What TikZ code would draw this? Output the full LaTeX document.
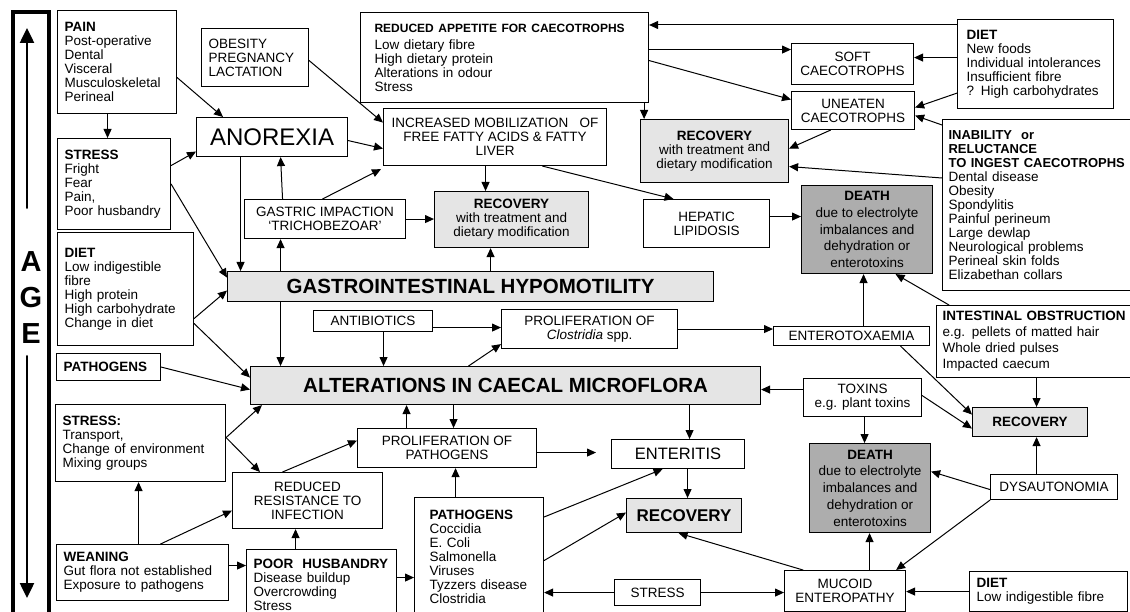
\documentclass[tikz,border=0pt]{standalone}
\usepackage{fontspec}
\setmainfont{Liberation Sans}
\usetikzlibrary{arrows.meta}

\definecolor{recfill}{gray}{0.9}
\definecolor{deathfill}{gray}{0.68}
\newcommand{\boxfont}{\fontsize{13.5}{14}\selectfont}

\tikzset{
  box/.style={draw, line width=1.1pt, fill=white, font=\boxfont},
  listbox/.style={box, anchor=north west, align=left, inner xsep=7pt, inner ysep=0pt},
  cbox/.style={box, anchor=north west, align=center, inner sep=0pt},
  recbox/.style={cbox, fill=recfill},
  deathbox/.style={cbox, fill=deathfill, font=\fontsize{13.5}{16.7}\selectfont},
  arr/.style={-{Triangle[length=9pt,width=8pt]}, line width=1pt},
  agearr/.style={-{Triangle[length=15pt,width=14pt]}, line width=2.5pt},
}

\begin{document}
\begin{tikzpicture}[x=1pt, y=-1pt, line cap=round]
    \useasboundingbox (0,0) rectangle (1130,612);

    % Barra AGE
    \draw[line width=3.5pt] (13,12) rectangle (49,640);
    \node[font=\fontsize{29}{36}\selectfont\bfseries, align=center, inner sep=0pt] (age) at (31,298) {A\\G\\E};
    \coordinate (agetop) at (27,28);
    \coordinate (agebottom) at (27,598);
    \draw[agearr] ([xshift=-4pt,yshift=44pt]age.north) -- (agetop);
    \draw[agearr] ([xshift=-4pt,yshift=-12pt]age.south) -- (agebottom);

    % Cause a sinistra
    \node[listbox, text width=105pt, minimum height=103pt] (pain) at (57,10)
        {\textbf{PAIN}\\Post-operative\\Dental\\Visceral\\Musculoskeletal\\Perineal};
    \node[listbox, text width=93pt, minimum height=58pt] (obesity) at (201,28)
        {OBESITY\\PREGNANCY\\LACTATION};
    \node[listbox, text width=99pt, minimum height=91pt] (stressA) at (57,138)
        {\textbf{STRESS}\\Fright\\Fear\\Pain,\\Poor husbandry};
    \node[listbox, text width=122pt, minimum height=113pt] (dietA) at (57,232)
        {\textbf{DIET}\\Low indigestible\\fibre\\High protein\\High carbohydrate\\Change in diet};
    \node[listbox, text width=90pt, minimum height=27pt] (pathA) at (56,353) {\textbf{PATHOGENS}};
    \node[listbox, text width=156pt, minimum height=77pt] (stressB) at (55,404)
        {\textbf{STRESS:}\\Transport,\\Change of environment\\Mixing groups};
    \node[listbox, text width=158pt, minimum height=56pt] (weaning) at (56,544)
        {\textbf{WEANING}\\Gut flora not established\\Exposure to pathogens};
    \node[listbox, text width=136pt, minimum height=70pt] (poor) at (246,549)
        {\textbf{POOR\ \ HUSBANDRY}\\Disease buildup\\Overcrowding\\Stress};
    \node[listbox, inner xsep=15pt, text width=99pt, minimum height=118pt] (pathlist) at (414,497)
        {\textbf{PATHOGENS}\\Coccidia\\E. Coli\\Salmonella\\Viruses\\Tyzzers disease\\Clostridia};

    % Blocchi centrali
    \node[cbox, minimum width=151pt, minimum height=39pt, font=\fontsize{24}{26}\selectfont] (anorexia) at (196,117) {ANOREXIA};
    \node[cbox, minimum width=161pt, minimum height=39pt] (gastric) at (244,199) {GASTRIC IMPACTION\\`TRICHOBEZOAR'};
    \node[listbox, inner xsep=14pt, text width=260pt, minimum height=90pt] (appetite) at (360,12)
        {{\fontsize{12}{14}\selectfont\bfseries REDUCED APPETITE FOR CAECOTROPHS}\\[3pt]Low dietary fibre\\High dietary protein\\Alterations in odour\\Stress};
    \node[cbox, minimum width=223pt, minimum height=57pt] (incmob) at (383,108)
        {INCREASED MOBILIZATION\ \ \ OF\\FREE FATTY ACIDS \& FATTY\\LIVER};
    \node[recbox, minimum width=154pt, minimum height=56pt] (recovM) at (434,191)
        {\textbf{RECOVERY}\\with treatment and\\dietary modification};
    \node[recbox, minimum width=486pt, minimum height=30pt, font=\fontsize{20.5}{22}\selectfont\bfseries] (gi) at (227,271)
        {GASTROINTESTINAL HYPOMOTILITY};
    \node[cbox, minimum width=119pt, minimum height=21pt] (antib) at (313,310) {ANTIBIOTICS};
    \node[cbox, minimum width=176pt, minimum height=39pt] (prolclos) at (501,309)
        {PROLIFERATION OF\\\textit{Clostridia} spp.};
    \node[recbox, minimum width=510pt, minimum height=38pt, font=\fontsize{20.5}{22}\selectfont\bfseries] (alter) at (250,366)
        {ALTERATIONS IN CAECAL MICROFLORA};
    \node[cbox, minimum width=150pt, minimum height=56pt] (resist) at (232,472) {REDUCED\\RESISTANCE TO\\INFECTION};
    \node[cbox, minimum width=179pt, minimum height=39pt] (prolpath) at (357,428) {PROLIFERATION OF\\PATHOGENS};
    \node[cbox, minimum width=133pt, minimum height=29pt, font=\fontsize{16.5}{18}\selectfont] (enteritis) at (611,439) {ENTERITIS};
    \node[recbox, minimum width=115pt, minimum height=34pt, font=\fontsize{17}{18}\selectfont\bfseries] (recovL) at (626,498) {RECOVERY};
    \node[cbox, minimum width=86pt, minimum height=26pt] (stressC) at (614,579) {STRESS};

    % Blocchi a destra
    \node[cbox, minimum width=122pt, minimum height=41pt] (soft) at (791,43) {SOFT\\CAECOTROPHS};
    \node[cbox, minimum width=123pt, minimum height=38pt] (uneaten) at (791,91) {UNEATEN\\CAECOTROPHS};
    \node[listbox, inner xsep=9pt, text width=138pt, minimum height=89pt] (dietT) at (957,19)
        {\textbf{DIET}\\New foods\\Individual intolerances\\Insufficient fibre\\? High carbohydrates};
    \node[recbox, minimum width=148pt, minimum height=63pt] (recovUR) at (640,119)
        {\textbf{RECOVERY}\\with treatment \raisebox{3pt}{and}\\dietary modification};
    \node[listbox, inner xsep=6pt, text width=250pt, minimum height=171pt] (inability) at (942,119)
        {{\fontsize{13}{14}\selectfont\bfseries INABILITY\ \ or\\RELUCTANCE\\TO INGEST CAECOTROPHS}\\Dental disease\\Obesity\\Spondylitis\\Painful perineum\\Large dewlap\\Neurological problems\\Perineal skin folds\\Elizabethan collars};
    \node[cbox, minimum width=126pt, minimum height=48pt] (hepatic) at (643,199) {HEPATIC\\LIPIDOSIS};
    \node[deathbox, minimum width=131pt, minimum height=88pt] (deathU) at (801,185)
        {\textbf{DEATH}\\due to electrolyte\\imbalances and\\dehydration or\\enterotoxins};
    \node[cbox, minimum width=156pt, minimum height=19pt] (enterotox) at (773,326) {ENTEROTOXAEMIA};
    \node[listbox, inner xsep=6pt, text width=250pt, minimum height=72pt, font=\fontsize{13.5}{16}\selectfont] (obstruct) at (936,305)
        {\textbf{INTESTINAL OBSTRUCTION}\\e.g. pellets of matted hair\\Whole dried pulses\\Impacted caecum};
    \node[cbox, minimum width=118pt, minimum height=38pt] (toxins) at (803,378) {TOXINS\\e.g. plant toxins};
    \node[recbox, minimum width=115pt, minimum height=29pt, font=\boxfont\bfseries] (recovR) at (972,407) {RECOVERY};
    \node[deathbox, minimum width=121pt, minimum height=89pt] (deathL) at (809,443)
        {\textbf{DEATH}\\due to electrolyte\\imbalances and\\dehydration or\\enterotoxins};
    \node[cbox, minimum width=127pt, minimum height=25pt] (dysaut) at (990,474) {DYSAUTONOMIA};
    \node[cbox, minimum width=121pt, minimum height=41pt] (mucoid) at (784,570) {MUCOID\\ENTEROPATHY};
    \node[listbox, text width=144pt, minimum height=40pt] (dietC) at (969,571)
        {\textbf{DIET}\\Low indigestible fibre};

    % Frecce in alto a sinistra
    \draw[arr] ([yshift=-15.5pt]pain.east) -- ([xshift=27pt]anorexia.north west);
    \draw[arr] ([xshift=-9.5pt]pain.south) -- ([xshift=-6.5pt]stressA.north);
    \draw[arr] ([yshift=-3pt]obesity.east) -- ([yshift=14.5pt]incmob.west);
    \draw[arr] ([yshift=-3.5pt]anorexia.east) -- ([yshift=-11.5pt]incmob.west);
    \draw[arr] ([yshift=18.5pt]stressA.east) -- ([yshift=-14.5pt]anorexia.west);
    \draw[arr] ([xshift=-42.5pt]gastric.north) -- ([xshift=8.5pt]anorexia.south);
    \draw[arr] ([xshift=-2.5pt]gastric.north) -- ([xshift=-2pt,yshift=-3pt]incmob.south west);
    \draw[arr] ([xshift=-31.5pt]anorexia.south) -- ([xshift=-31.5pt]anorexia.south |- gi.north);
    \draw[arr] ([xshift=-44.5pt]gastric.south |- gi.north) -- ([xshift=-44.5pt]gastric.south);
    \draw[arr] (gastric.east) -- (gastric.east -| recovM.west);
    \draw[arr] (stressA.east) -- ([yshift=9pt]gi.west);
    \draw[arr] ([yshift=-29.5pt]dietA.east) -- ([yshift=-4pt]gi.west);
    \draw[arr] ([yshift=-34.5pt]dietA.east) -- ([yshift=8pt]alter.west);
    \draw[arr] (pathA.east) -- ([yshift=-4pt]alter.west);

    % Frecce centrali
    \draw[arr] ([xshift=-190pt]gi.south) -- ([xshift=-190pt]gi.south |- alter.north);
    \draw[arr] ([xshift=10.5pt]antib.south) -- ([xshift=10.5pt]antib.south |- alter.north);
    \draw[arr] ([yshift=-6.5pt]antib.east) -- ([yshift=-6.5pt]antib.east -| prolclos.west);
    \draw[arr] ([xshift=-37pt]alter.north) -- ([yshift=5pt]prolclos.south west);
    \draw[arr] ([xshift=20pt]gi.north) -- ([xshift=20pt]gi.north |- recovM.south);
    \draw[arr] (prolclos.east) -- (prolclos.east -| enterotox.west);
    \draw[arr] ([xshift=-9.5pt]incmob.south) -- ([xshift=-9.5pt]incmob.south |- recovM.north);
    \draw[arr] ([xshift=47.5pt]incmob.south) -- ([xshift=-33pt]hepatic.north);
    \draw[arr] ([yshift=7pt]hepatic.east) -- ([yshift=7pt]hepatic.east -| deathU.west);

    % Frecce in alto a destra
    \draw[arr] ([yshift=-6pt]dietT.north west) -- ([yshift=-6pt]dietT.north west -| appetite.east);
    \draw[arr] ([yshift=8pt]appetite.east) -- ([yshift=8pt]appetite.east -| soft.west);
    \draw[arr] ([yshift=-3pt]appetite.east) -- ([yshift=11pt]uneaten.west);
    \draw[arr] ([xshift=-5pt]appetite.south east) -- ([xshift=-5pt]appetite.south east |- recovUR.north);
    \draw[arr] ([yshift=6.5pt]dietT.west) -- ([yshift=6.5pt]dietT.west -| soft.east);
    \draw[arr] ([yshift=16pt]dietT.south west) -- ([yshift=3pt]uneaten.east);
    \draw[arr] ([yshift=-6pt]inability.north west) -- ([yshift=-5pt]uneaten.east);
    \draw[arr] ([xshift=-22.5pt]uneaten.south) -- ([yshift=2.5pt]recovUR.east);
    \draw[arr] ([yshift=-59pt]inability.north west) -- ([yshift=-15.5pt]recovUR.east);

    % Frecce a destra
    \draw[arr] ([xshift=12pt]enterotox.north) -- ([xshift=12pt]enterotox.north |- deathU.south);
    \draw[arr] ([xshift=13pt]obstruct.north west) -- ([xshift=28.5pt]deathU.south);
    \draw[arr] ([xshift=49pt]enterotox.south) -- ([yshift=7.5pt]recovR.west);
    \draw[arr] ([xshift=6.5pt]recovR.north |- obstruct.south) -- ([xshift=6.5pt]recovR.north);
    \draw[arr] ([yshift=8pt]toxins.west) -- ([yshift=8pt]toxins.west -| alter.east);
    \draw[arr] ([yshift=2pt]toxins.east) -- ([yshift=-6.5pt]recovR.west);
    \draw[arr] ([xshift=2pt]toxins.south) -- ([xshift=2pt]toxins.south |- deathL.north);
    \draw[arr] ([xshift=-17.5pt]dysaut.north) -- ([xshift=-17.5pt]dysaut.north |- recovR.south);
    \draw[arr] ([yshift=-2.5pt]dysaut.west) -- ([yshift=16.5pt]deathL.east);
    \draw[arr] (dysaut.south west) -- ([xshift=-10pt]mucoid.north east);
    \draw[arr] ([xshift=24.5pt]mucoid.north) -- ([xshift=24.5pt]mucoid.north |- deathL.south);
    \draw[arr] (dietC.west) -- (dietC.west -| mucoid.east);
    \draw[arr] (stressC.east) -- (stressC.east -| mucoid.west);
    \draw[arr] (stressC.west) -- (stressC.west -| pathlist.east);
    \draw[arr] ([xshift=19pt]mucoid.north west) -- ([xshift=-5.5pt]recovL.south);

    % Frecce in basso
    \draw[arr] ([xshift=9.5pt]enteritis.south) -- ([xshift=9.5pt]enteritis.south |- recovL.north);
    \draw[arr] ([xshift=11.5pt]enteritis.north |- alter.south) -- ([xshift=11.5pt]enteritis.north);
    \draw[arr, shorten >=15pt] ([yshift=-4.5pt]prolpath.east) -- ([yshift=-4.5pt]prolpath.east -| enteritis.west);
    \draw[arr] ([yshift=-20pt]pathlist.north east) -- ([xshift=-15.5pt]enteritis.south);
    \draw[arr] ([yshift=-4pt]pathlist.east) -- ([yshift=3pt]recovL.west);
    \draw[arr] ([xshift=-23.5pt]pathlist.north) -- ([xshift=-23.5pt]pathlist.north |- prolpath.south);
    \draw[arr] ([xshift=-40.5pt]prolpath.north) -- ([xshift=-40.5pt]prolpath.north |- alter.south);
    \draw[arr] ([xshift=6.5pt]prolpath.north |- alter.south) -- ([xshift=6.5pt]prolpath.north);

    % Frecce in basso a sinistra
    \draw[arr] ([yshift=5.5pt]stressB.east) -- ([xshift=12pt]alter.south west);
    \draw[arr] ([yshift=5.5pt]stressB.east) -- ([xshift=28pt]resist.north west);
    \draw[arr] ([xshift=-25pt]resist.north) -- ([yshift=7.5pt]prolpath.west);
    \draw[arr] ([xshift=-4pt]weaning.north) -- ([xshift=-4pt]weaning.north |- stressB.south);
    \draw[arr] ([xshift=18pt]weaning.north) -- ([yshift=-10pt]resist.west);
    \draw[arr] ([yshift=7pt]weaning.east) -- ([yshift=7pt]weaning.east -| poor.west);
    \draw[arr] ([xshift=-26pt]poor.north) -- ([xshift=-26pt]poor.north |- resist.south);
    \draw[arr] ([yshift=7pt]poor.east) -- ([yshift=7pt]poor.east -| pathlist.west);
\end{tikzpicture}
\end{document}
